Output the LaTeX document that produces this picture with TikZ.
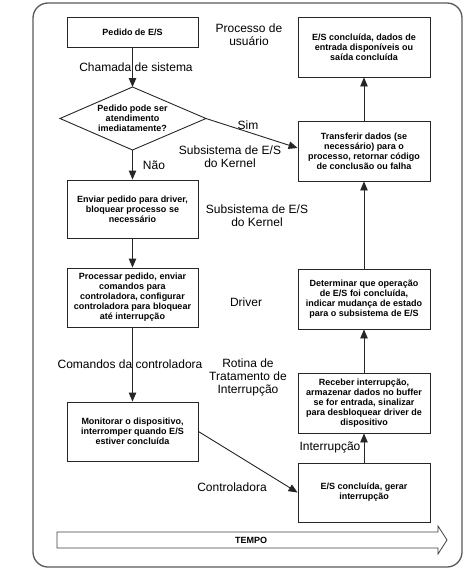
\documentclass[tikz,border=0pt]{standalone}
\usepackage{fontspec}
\setmainfont{Liberation Sans}
\usetikzlibrary{arrows.meta}
\begin{document}
\begin{tikzpicture}[x=1pt,y=-1pt,
  box/.style={draw=black!85,line width=0.9pt,fill=white,align=center,inner sep=0pt,
    font=\fontsize{9}{10}\selectfont\bfseries},
  lbox/.style={box,minimum width=131pt},
  rbox/.style={box,minimum width=132pt},
  dtext/.style={align=center,inner sep=0pt,font=\fontsize{9}{10}\selectfont\bfseries},
  lbl/.style={align=center,inner sep=0pt,font=\fontsize{12}{13}\selectfont},
  conn/.style={draw=black!85,line width=0.9pt,-{Triangle[length=9pt,width=7.5pt]}}]
\useasboundingbox (0,0) rectangle (473,578);
% outer frame
\draw[black!65,line width=1.3pt,rounded corners=15pt] (33,3) rectangle (462,567);
% time arrow
\draw[black!75,line width=0.8pt,fill=white] (57,532) -- (438,532) -- (438,526) -- (447,540) -- (438,554) -- (438,548) -- (57,548) -- cycle;
\node[font=\fontsize{9}{10}\selectfont\bfseries] (tempo) at (251,540) {TEMPO};
% left column
\node[lbox,minimum height=30pt] (b1) at (132.5,32) {Pedido de E/S};
\coordinate (dtop) at (132.5,87);
\coordinate (dleft) at (60,118.5);
\coordinate (dbot) at (132.5,150);
\coordinate (dright) at (206,118.5);
\draw[black!85,line width=0.9pt,fill=white] (dtop) -- (dright) -- (dbot) -- (dleft) -- cycle;
\node[dtext] (d) at (132.5,118.5) {Pedido pode ser\\atendimento\\imediatamente?};
\node[lbox,minimum height=58pt] (b2) at (132.5,209) {Enviar pedido para driver,\\bloquear processo se\\necessário};
\node[lbox,minimum height=59pt] (b3) at (132.5,297.5) {Processar pedido, enviar\\comandos para\\controladora, configurar\\controladora para bloquear\\até interrupção};
\node[lbox,minimum height=59pt] (b4) at (132.5,431.5) {Monitorar o dispositivo,\\interromper quando E/S\\estiver concluída};
% right column
\node[rbox,minimum height=60pt] (r1) at (364,47) {E/S concluída, dados de\\entrada disponíveis ou\\saída concluída};
\node[rbox,minimum height=60pt] (r2) at (364,151) {Transferir dados (se\\necessário) para o\\processo, retornar código\\de conclusão ou falha};
\node[rbox,minimum height=60pt] (r3) at (364,299) {Determinar que operação\\de E/S foi concluída,\\indicar mudança de estado\\para o subsistema de E/S};
\node[rbox,minimum height=60pt] (r4) at (364,403) {Receber interrupção,\\armazenar dados no buffer\\se for entrada, sinalizar\\para desbloquear driver de\\dispositivo};
\node[rbox,minimum height=59pt] (r5) at (364,492.5) {E/S concluída, gerar\\interrupção};
% connectors
\draw[conn] (b1) -- (dtop);
\draw[conn] (dbot) -- (b2);
\draw[conn] (dright) -- ([yshift=3pt]r2.west);
\draw[conn] (b2) -- (b3);
\draw[conn] (b3) -- (b4);
\draw[conn] (b4.east) -- (r5.west);
\draw[conn] (r5) -- (r4);
\draw[conn] (r4) -- (r3);
\draw[conn] (r3) -- (r2);
\draw[conn] (r2) -- (r1);
% labels
\node[lbl] (l1) at (249,35) {Processo de\\usuário};
\node[lbl] (l2) at (136,67) {Chamada de sistema};
\node[lbl] (l3) at (248,125) {Sim};
\node[lbl] (l4) at (230,157) {Subsistema de E/S\\do Kernel};
\node[lbl] (l5) at (154,165) {Não};
\node[lbl] (l6) at (257,215.5) {Subsistema de E/S\\do Kernel};
\node[lbl] (l7) at (246,302) {Driver};
\node[lbl] (l8) at (130,364) {Comandos da controladora};
\node[lbl] (l9) at (248,377) {Rotina de\\Tratamento de\\Interrupção};
\node[lbl] (l10) at (330,447) {Interrupção};
\node[lbl] (l11) at (232,487) {Controladora};
\end{tikzpicture}
\end{document}
